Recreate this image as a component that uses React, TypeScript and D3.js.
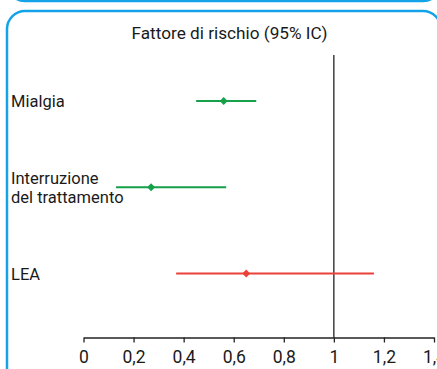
import React, { useEffect, useRef } from 'react';
import * as d3 from 'd3';

// forest plot data
const categories = ['Mialgia', 'Interruzione del trattamento', 'LEA'];
const estimates = [0.56, 0.27, 0.65];
const lower = [0.45, 0.13, 0.37];
const upper = [0.69, 0.57, 1.16];
const colors = ['#16a04a', '#16a04a', '#ea4139'];
const tickValues = [0, 0.2, 0.4, 0.6, 0.8, 1, 1.2, 1.4];
const title = 'Fattore di rischio (95% IC)';

const W = 437;
const H = 369;
const FONT = 'Roboto, "Noto Sans", sans-serif';

function App() {
  const ref = useRef<SVGSVGElement>(null);

  useEffect(() => {
    const svg = d3.select(ref.current);
    svg.selectAll('*').remove();

    // frame (bottom of previous box + current box)
    svg.append('rect')
      .attr('x', 7).attr('y', -40).attr('width', 434).attr('height', 41)
      .attr('rx', 18).attr('fill', 'none')
      .attr('stroke', '#14a2e8').attr('stroke-width', 2.5);
    svg.append('rect')
      .attr('x', 7).attr('y', 11).attr('width', 434).attr('height', 400)
      .attr('rx', 18).attr('fill', 'none')
      .attr('stroke', '#14a2e8').attr('stroke-width', 2.5);

    const x = d3.scaleLinear().domain([0, 1.4]).range([83.5, 434]);
    const y = d3.scalePoint<string>().domain(categories).range([101, 273.5]);
    const axisY = 337.5;

    // title
    svg.append('text')
      .attr('x', 229.5).attr('y', 33)
      .attr('text-anchor', 'middle').attr('dominant-baseline', 'central')
      .attr('font-family', FONT).attr('font-size', 17.2).attr('fill', '#1a1a1a')
      .text(title);

    // reference line at 1
    svg.append('line')
      .attr('x1', x(1)).attr('x2', x(1))
      .attr('y1', 55).attr('y2', axisY)
      .attr('stroke', '#222').attr('stroke-width', 1.3);

    // x axis
    const locale = d3.formatLocale({ decimal: ',', thousands: '.', grouping: [3], currency: ['€', ''] });
    const fmt = locale.format('~g');
    const axis = svg.append('g')
      .attr('transform', `translate(0,${axisY})`)
      .call(d3.axisBottom(x).tickValues(tickValues).tickSize(5).tickSizeOuter(0).tickPadding(8).tickFormat((d) => fmt(d as number)));
    axis.select('.domain').attr('stroke', '#222').attr('stroke-width', 1.3);
    axis.selectAll('.tick line').attr('stroke', '#222').attr('stroke-width', 1.3);
    axis.selectAll('.tick text')
      .attr('font-family', FONT).attr('font-size', 17.5).attr('fill', '#1a1a1a');

    // category labels
    categories.forEach((c, i) => {
      const yy = y(c) as number;
      const t = svg.append('text')
        .attr('font-family', FONT).attr('font-size', 16.5).attr('fill', '#1a1a1a');
      if (i === 1) {
        t.append('tspan').attr('x', 11).attr('y', yy - 3).text('Interruzione');
        t.append('tspan').attr('x', 11).attr('y', yy + 16).text('del trattamento');
      } else {
        t.attr('x', 11).attr('y', yy + 6).text(c);
      }
    });

    // confidence intervals
    const rows = categories.map((c, i) => ({ c, est: estimates[i], lo: lower[i], hi: upper[i], color: colors[i] }));
    svg.selectAll('line.ci')
      .data(rows)
      .enter()
      .append('line')
      .attr('class', 'ci')
      .attr('x1', (d) => x(d.lo)).attr('x2', (d) => x(d.hi))
      .attr('y1', (d) => y(d.c) as number).attr('y2', (d) => y(d.c) as number)
      .attr('stroke', (d) => d.color).attr('stroke-width', 2);

    const diamond = d3.symbol().type(d3.symbolDiamond2).size(40);
    svg.selectAll('path.pt')
      .data(rows)
      .enter()
      .append('path')
      .attr('class', 'pt')
      .attr('d', diamond)
      .attr('transform', (d) => `translate(${x(d.est)},${y(d.c)})`)
      .attr('fill', (d) => d.color);
  }, []);

  return (
    <svg ref={ref} width={W} height={H} style={{ position: 'absolute', left: 0, top: 0, background: '#fff' }} />
  );
}

export default App;
